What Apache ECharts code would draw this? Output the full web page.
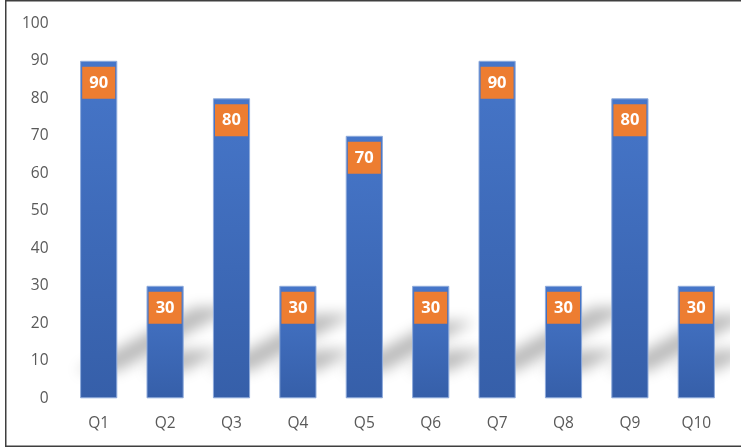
<!DOCTYPE html>
<html>
<head>
<meta charset="utf-8">
<script src="https://cdn.jsdelivr.net/npm/echarts@6/dist/echarts.min.js"></script>
<style>
  html, body { margin: 0; padding: 0; background: #ffffff; }
  #chart { width: 741px; height: 448px; }
</style>
</head>
<body>
<div id="chart"></div>
<script>
// Quarterly values
const categories = ['Q1', 'Q2', 'Q3', 'Q4', 'Q5', 'Q6', 'Q7', 'Q8', 'Q9', 'Q10'];
const values = [90, 30, 80, 30, 70, 30, 90, 30, 80, 30];
const yTicks = [0, 10, 20, 30, 40, 50, 60, 70, 80, 90, 100];

const BAR_RATIO = 0.56;      // bar width as share of the category band
const OFF = 3000;            // draw the shadow source off-canvas; only its blur lands on the plot

// Soft cast shadow behind every bar, skewed up and to the right
function renderShadow(params, api) {
  const i = api.value(0);
  const v = api.value(1);
  const base = api.coord([i, 0]);
  const top = api.coord([i, v]);
  const h = base[1] - top[1];
  const bw = api.size([1, 0])[0] * BAR_RATIO;
  const xl = base[0] - bw / 2 - 4;
  const xr = base[0] + bw / 2;
  const yb = base[1] - 27;
  const dx = 0.35 * h;
  const dy = 0.19 * h;
  return {
    type: 'polygon',
    shape: {
      points: [
        [xl - OFF, yb],
        [xr - OFF, yb],
        [xr + dx - OFF, yb - dy],
        [xl + dx - OFF, yb - dy]
      ]
    },
    style: {
      fill: '#000',
      shadowColor: 'rgba(0,0,0,0.27)',
      shadowBlur: 14,
      shadowOffsetX: OFF,
      shadowOffsetY: 0
    },
    silent: true
  };
}

const chart = echarts.init(document.getElementById('chart'), null, { renderer: 'canvas' });

chart.setOption({
  animation: false,
  backgroundColor: '#ffffff',
  textStyle: { fontFamily: 'Open Sans' },
  grid: { left: 65.5, right: 11.5, top: 23.3, bottom: 49.7, containLabel: false },
  xAxis: {
    type: 'category',
    data: categories,
    axisLine: { show: false },
    axisTick: { show: false },
    axisLabel: { color: '#595959', fontSize: 15.5, margin: 17 }
  },
  yAxis: {
    type: 'value',
    min: yTicks[0],
    max: yTicks[yTicks.length - 1],
    interval: 10,
    splitLine: { show: false },
    axisLine: { show: false },
    axisTick: { show: false },
    axisLabel: { color: '#595959', fontSize: 15.5, margin: 17 }
  },
  graphic: [{
    type: 'rect',
    shape: { x: 5.75, y: 0.75, width: 800, height: 445.5 },
    style: { fill: 'none', stroke: '#3f3f3f', lineWidth: 1.5 },
    silent: true,
    z: 100
  }],
  series: [
    {
      type: 'custom',
      clip: true,
      z: 1,
      renderItem: renderShadow,
      data: values.map((v, i) => [i, v])
    },
    {
      type: 'bar',
      z: 2,
      barWidth: (BAR_RATIO * 100) + '%',
      data: values,
      itemStyle: {
        color: new echarts.graphic.LinearGradient(0, 0, 0, 1, [
          { offset: 0, color: '#4676c9' },
          { offset: 1, color: '#365fa9' }
        ]),
        borderColor: '#8eaadb',
        borderWidth: 1
      },
      label: {
        show: true,
        position: 'insideTop',
        distance: 6,
        formatter: '{c}',
        color: '#ffffff',
        fontWeight: 'bold',
        fontSize: 16.5,
        backgroundColor: '#ed7d31',
        width: 33,
        height: 32,
        lineHeight: 32,
        align: 'center',
        verticalAlign: 'top',
        padding: 0
      }
    }
  ]
});
</script>
</body>
</html>
